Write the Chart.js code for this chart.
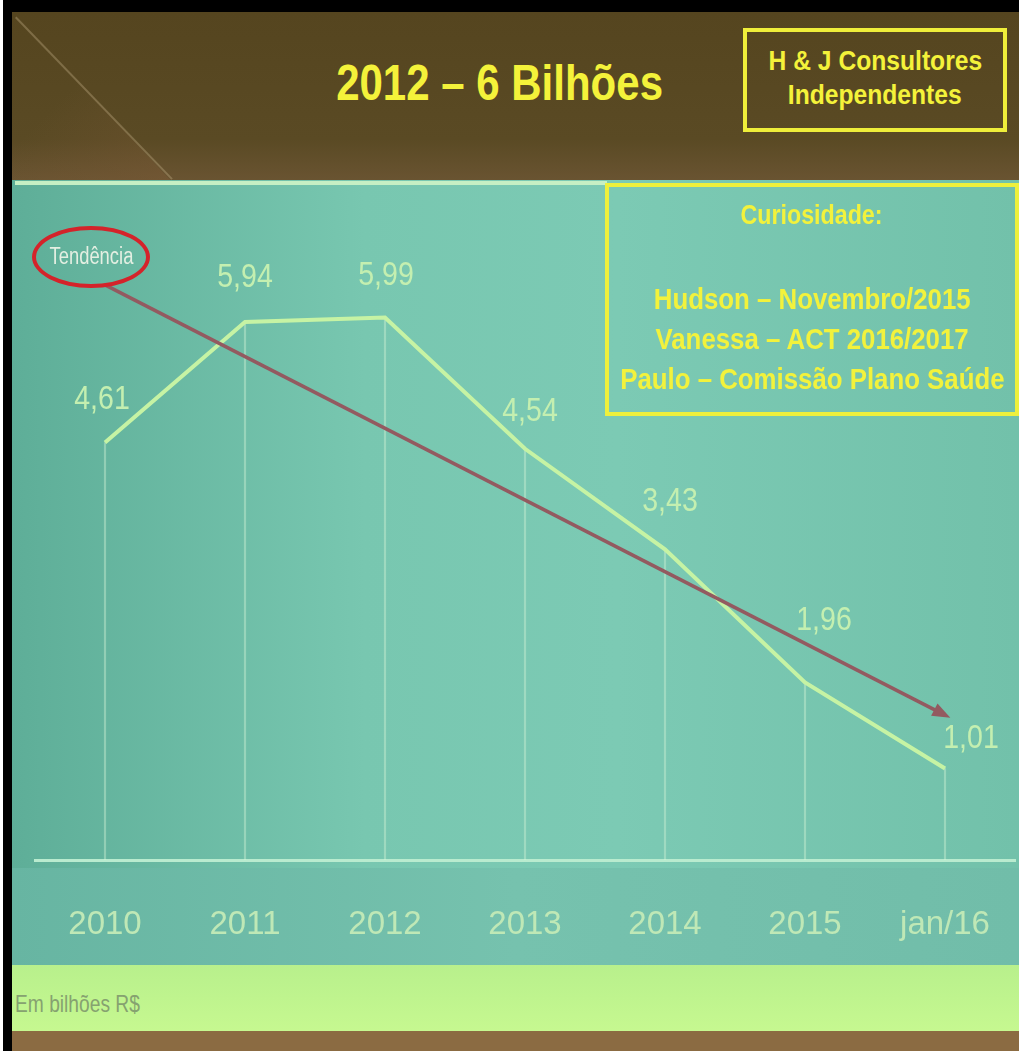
<!DOCTYPE html>
<html>
<head>
<meta charset="utf-8">
<script src="https://cdn.jsdelivr.net/npm/chart.js@4.4.1/dist/chart.umd.min.js"></script>
<style>
  body { margin: 0; background: #000; width: 1019px; height: 1051px; overflow: hidden; position: relative; font-family: "Liberation Sans", Arial, sans-serif; }
  .abs { position: absolute; }
  .c { display: flex; justify-content: center; white-space: nowrap; }
  .c span { display: inline-block; transform: scaleX(0.86); }
  #edge { left: 0; top: 0; width: 3px; height: 1051px; background: #fff; }
  #header { left: 12px; top: 12px; width: 1007px; height: 170px; background: linear-gradient(180deg, #55451f 0%, #5a4a24 75%, #6a5432 100%); }
  #shade { left: 12px; top: 12px; width: 170px; height: 170px; background: linear-gradient(135deg, rgba(120,95,60,0.0) 40%, rgba(125,90,55,0.45) 100%); clip-path: polygon(0 0, 3px 0, 160px 170px, 0 170px); }
  #diag { left: 15px; top: 18px; width: 2px; height: 225px; background: rgba(200,180,140,0.35); transform-origin: top left; transform: rotate(-44deg); }
  #title { left: 200px; top: 53px; width: 600px; color: #f4f23a; font-weight: bold; font-size: 50px; line-height: 60px; }
  #title span { transform: scaleX(0.84); }
  #hj { left: 743px; top: 28px; width: 256px; height: 96px; border: 4px solid #efee3a; color: #f4f23a; font-weight: bold; font-size: 28px; line-height: 34px; }
  #hj .c span { transform: scaleX(0.88); }
  #hj .c:first-child { margin-top: 12px; }
  #plot { left: 12px; top: 180px; width: 1007px; height: 785px; background: linear-gradient(90deg, #5eae98 0%, #78c7b0 35%, #7ccab4 60%, #72c1aa 100%); }
  #topline { left: 15px; top: 181px; width: 592px; height: 4px; background: #c6efc4; }
  #lowband { left: 12px; top: 868px; width: 1007px; height: 97px; background: linear-gradient(90deg, #67b5a2 0%, #76c2ae 50%, #71bda9 100%); }
  #greenband { left: 12px; top: 965px; width: 1007px; height: 66px; background: linear-gradient(180deg, #b8f08c 0%, #c6f890 100%); }
  #unit { left: 15px; top: 990px; color: #86a270; font-size: 24px; white-space: nowrap; }
  #unit span { display: inline-block; transform: scaleX(0.8); transform-origin: left; }
  #footer { left: 12px; top: 1031px; width: 1007px; height: 20px; background: #8b6b42; }
  #curio { left: 605px; top: 183px; width: 406px; height: 225px; border: 4px solid #eef03c; color: #f2f23c; font-weight: bold; }
  #curio .h { font-size: 27px; margin-top: 11px; line-height: 34px; }
  #curio .l { font-size: 30px; line-height: 40px; }
  #tend { left: 32px; top: 226px; width: 118px; height: 62px; border: 4px solid #d4232a; border-radius: 50%; box-sizing: border-box; }
  #tendtxt { left: 32px; top: 243px; width: 118px; color: #e4efe2; font-size: 23px; }
  #tendtxt span { transform: scaleX(0.8); }
  #wrap { left: 12px; top: 180px; width: 1007px; height: 785px; }
</style>
</head>
<body>
<div class="abs" id="edge"></div>
<div class="abs" id="header"></div>
<div class="abs" id="shade"></div>
<div class="abs" id="diag"></div>
<div class="abs c" id="title"><span>2012 – 6 Bilhões</span></div>
<div class="abs" id="hj"><div class="c"><span>H &amp; J Consultores</span></div><div class="c"><span>Independentes</span></div></div>
<div class="abs" id="plot"></div>
<div class="abs" id="lowband"></div>
<div class="abs" id="topline"></div>
<div class="abs" id="greenband"></div>
<div class="abs" id="unit"><span>Em bilhões R$</span></div>
<div class="abs" id="footer"></div>
<div class="abs" id="wrap"><canvas id="chart1" width="1007" height="785"></canvas></div>
<div class="abs" id="curio">
  <div class="c h"><span>Curiosidade:</span></div>
  <div class="c l" style="margin-top:47px"><span>Hudson – Novembro/2015</span></div>
  <div class="c l"><span>Vanessa – ACT 2016/2017</span></div>
  <div class="c l"><span>Paulo – Comissão Plano Saúde</span></div>
</div>
<div class="abs" id="tend"></div>
<div class="abs c" id="tendtxt"><span>Tendência</span></div>
<script>
const periods = ["2010", "2011", "2012", "2013", "2014", "2015", "jan/16"];
const values = [4.61, 5.94, 5.99, 4.54, 3.43, 1.96, 1.01];
const trendValues = [6.35, null, null, null, null, null, 1.6];

const lineColor = '#c6f3a4';
const labelColor = '#c4efb0';
const trendColor = '#935a60';

// value labels, nudged around each point like on the slide
const labelOffsets = [[-3, -43], [0, -44], [1, -42], [5, -37], [5, -48], [19, -62], [26, -30]];
const valueLabels = {
    id: 'valueLabels',
    afterDatasetsDraw(chart) {
        const ctx = chart.ctx;
        const pts = chart.getDatasetMeta(1).data;
        ctx.font = '34px "Liberation Sans", Arial, sans-serif';
        ctx.fillStyle = labelColor;
        ctx.textAlign = 'center';
        ctx.textBaseline = 'middle';
        pts.forEach((p, i) => {
            const o = labelOffsets[i];
            ctx.save();
            ctx.translate(p.x + o[0], p.y + o[1]);
            ctx.scale(0.84, 1);
            ctx.fillText(values[i].toFixed(2).replace('.', ','), 0, 0);
            ctx.restore();
        });
    }
};

// arrow head at the end of the trend line
const arrowHead = {
    id: 'arrowHead',
    afterDatasetsDraw(chart) {
        const pts = chart.getDatasetMeta(2).data;
        const a = pts[0], b = pts[pts.length - 1];
        const ang = Math.atan2(b.y - a.y, b.x - a.x);
        const ctx = chart.ctx;
        ctx.save();
        ctx.translate(b.x, b.y);
        ctx.rotate(ang);
        ctx.fillStyle = trendColor;
        ctx.beginPath();
        ctx.moveTo(6, 0);
        ctx.lineTo(-12, -7);
        ctx.lineTo(-12, 7);
        ctx.closePath();
        ctx.fill();
        ctx.restore();
    }
};

new Chart("chart1", {
    type: "bar",
    data: {
        labels: periods,
        datasets: [{
            type: 'bar',
            data: values,
            backgroundColor: 'rgba(215,245,215,0.4)',
            barThickness: 1.5,
            order: 3
        }, {
            type: 'line',
            data: values,
            borderColor: lineColor,
            borderWidth: 4,
            pointRadius: 0,
            tension: 0,
            order: 2
        }, {
            type: 'line',
            data: trendValues,
            spanGaps: true,
            borderColor: trendColor,
            borderWidth: 3.5,
            pointRadius: 0,
            order: 1
        }]
    },
    options: {
        responsive: false,
        animation: false,
        events: [],
        layout: { padding: { left: 23, right: 4, top: 46, bottom: 0 } },
        plugins: {
            legend: { display: false },
            tooltip: { enabled: false }
        },
        scales: {
            x: {
                offset: true,
                grid: { display: false, drawTicks: false },
                border: { display: true, color: '#b9ebcf', width: 3 },
                ticks: {
                    color: '#bfe8b6',
                    padding: 45,
                    maxRotation: 0,
                    autoSkip: false,
                    font: { family: '"Liberation Sans", Arial, sans-serif', size: 33 }
                },
                afterFit(scale) {
                    scale.height = 105;
                    scale.paddingLeft = 0;
                    scale.paddingRight = 0;
                }
            },
            y: {
                display: false,
                min: 0,
                max: 7
            }
        }
    },
    plugins: [valueLabels, arrowHead]
});
</script>
</body>
</html>
